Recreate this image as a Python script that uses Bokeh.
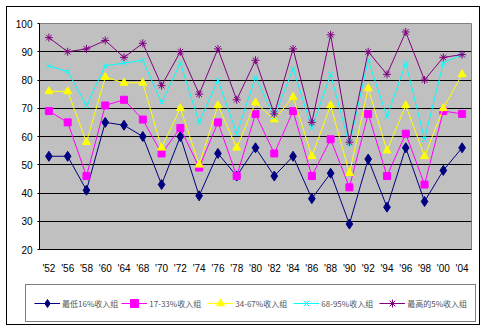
from bokeh.plotting import figure
from bokeh.layouts import column, row
from bokeh.models import FactorRange, Range1d, FixedTicker, Legend, LegendItem, AllLabels
from bokeh.embed import file_html
from bokeh.resources import INLINE

years = ["'52", "'56", "'58", "'60", "'64", "'68", "'70", "'72", "'74", "'76", "'78", "'80",
         "'82", "'84", "'86", "'88", "'90", "'92", "'94", "'96", "'98", "'00", "'04"]

lowest16 = [53, 53, 41, 65, 64, 60, 43, 60, 39, 54, 46, 56, 46, 53, 38, 47, 29, 52, 35, 56, 37, 48, 56]
p17_33 = [69, 65, 46, 71, 73, 66, 54, 63, 49, 65, 46, 68, 54, 69, 46, 59, 42, 68, 46, 61, 43, 69, 68]
p34_67 = [76, 76, 58, 81, 79, 79, 56, 70, 50, 71, 56, 72, 66, 74, 53, 71, 47, 77, 55, 71, 53, 70, 82]
p68_95 = [85, 83, 71, 85, 86, 87, 72, 86, 65, 80, 61, 81, 67, 84, 63, 82, 57, 87, 67, 86, 59, 86, 89]
top5 = [95, 90, 91, 94, 88, 93, 78, 90, 75, 91, 73, 87, 68, 91, 65, 96, 58, 90, 82, 97, 80, 88, 89]

labels = ["最低16%收入组", "17-33%收入组", "34-67%收入组", "68-95%收入组", "最高的5%收入组"]
y_ticks = [20, 30, 40, 50, 60, 70, 80, 90, 100]

colors = ["#000080", "#FF00FF", "#FFFF00", "#00FFFF", "#800080"]
markers = ["diamond", "square", "triangle", "x", "asterisk"]
sizes = [10, 7, 8, 7, 8]
all_series = [lowest16, p17_33, p34_67, p68_95, top5]

# main chart
p = figure(width=472, height=272, x_range=FactorRange(*years), y_range=Range1d(20, 100),
           output_backend="svg", toolbar_location=None,
           min_border_left=32, min_border_right=8, min_border_top=16, min_border_bottom=30)
p.background_fill_color = "#C0C0C0"
p.border_fill_color = "white"
p.outline_line_color = "#808080"
p.outline_line_width = 1

p.xgrid.grid_line_color = None
p.ygrid.ticker = FixedTicker(ticks=[30, 40, 50, 60, 70, 80, 90])
p.ygrid.grid_line_color = "black"
p.ygrid.grid_line_width = 1

p.yaxis.ticker = FixedTicker(ticks=y_ticks)
p.yaxis.major_label_policy = AllLabels()
for ax in (p.xaxis[0], p.yaxis[0]):
    ax.axis_line_color = "black"
    ax.axis_line_width = 1
    ax.major_label_text_font = "Liberation Sans"
    ax.major_label_text_font_size = "10px"
    ax.major_label_text_color = "black"
    ax.minor_tick_line_color = None
p.yaxis.major_tick_in = 0
p.yaxis.major_tick_out = 2
p.yaxis.major_label_standoff = 5
p.xaxis.major_tick_line_color = None
p.xaxis.major_label_standoff = 7

for vals, color, marker, size in zip(all_series, colors, markers, sizes):
    p.line(years, vals, line_color=color, line_width=1)
    p.scatter(years, vals, marker=marker, size=size, fill_color=color, line_color=color, line_width=1)

# legend strip (its series sit outside the strip's visible y range; only the legend shows)
q = figure(width=472, height=45, x_range=FactorRange(*years), y_range=Range1d(1000, 1001),
           output_backend="svg", toolbar_location=None,
           x_axis_location=None, y_axis_location=None,
           min_border_left=0, min_border_right=0, min_border_top=0, min_border_bottom=0)
q.grid.visible = False
q.outline_line_color = None
q.background_fill_color = "white"
q.border_fill_color = "white"
items = []
for vals, lab, color, marker, size in zip(all_series, labels, colors, markers, sizes):
    r1 = q.line(years, vals, line_color=color, line_width=1)
    r2 = q.scatter(years, vals, marker=marker, size=size, fill_color=color, line_color=color, line_width=1)
    items.append(LegendItem(label=lab, renderers=[r1, r2]))
legend = Legend(items=items, orientation="horizontal", location=(18, 2),
                label_text_font="Noto Sans CJK SC", label_text_font_size="8px",
                label_text_color="#555555", glyph_width=26, glyph_height=20,
                label_standoff=2, label_width=55, spacing=3, padding=8, margin=0,
                border_line_color="black", border_line_width=1,
                background_fill_color="white", background_fill_alpha=1)
q.add_layout(legend, "center")

lay = column(p, row(q, spacing=0), spacing=0)
lay.margin = (6, 6, 6, 6)
lay.styles = {"border": "1px solid black"}

open("out.html", "w").write(file_html(lay, INLINE))
